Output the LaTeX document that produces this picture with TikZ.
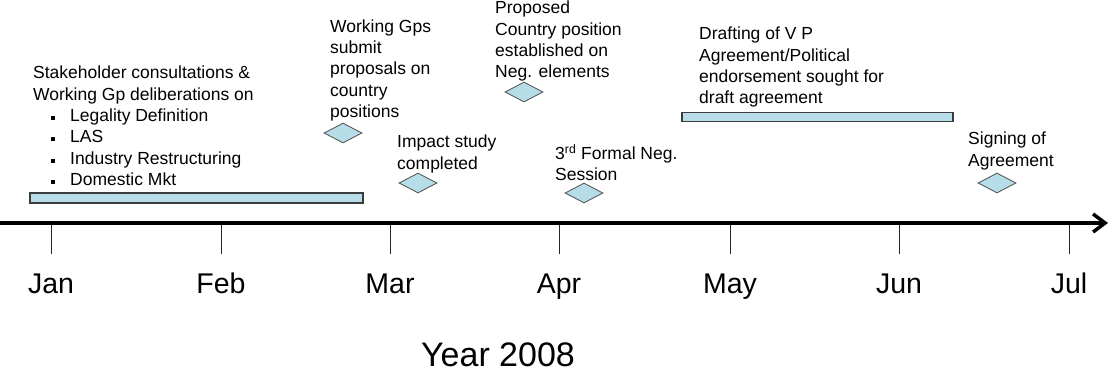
\documentclass[tikz,border=0pt]{standalone}
\usepackage{fontspec}
\setmainfont{Liberation Sans}
\usetikzlibrary{shapes.geometric,arrows.meta}
\definecolor{aqua}{RGB}{183,222,232}
\definecolor{edgegray}{RGB}{60,60,60}
\definecolor{diamgray}{RGB}{90,90,90}
\newcommand{\sqbul}{\hspace*{18pt}\rule[1.5pt]{4pt}{4pt}\hspace{15pt}}
\begin{document}
\begin{tikzpicture}[x=1pt,y=-1pt,
  lbl/.style={anchor=north west, inner sep=0pt, align=left,
    font=\fontsize{17.5}{21.3}\selectfont,
    execute at begin node={\rule{0pt}{14pt}}},
  month/.style={anchor=base, inner sep=0pt, font=\fontsize{28.5}{30}\selectfont},
  barbox/.style={draw=edgegray, line width=1.3pt, fill=aqua, rectangle, inner sep=0pt},
  diam/.style={draw=diamgray, line width=0.9pt, fill=aqua, diamond, inner sep=0pt,
    minimum width=38pt, minimum height=20pt},
  axisline/.style={line width=3.5pt, -{Straight Barb[length=12pt,width=18pt]}},
  tickline/.style={line width=0.8pt, draw=black!85}
]
\useasboundingbox (0,0) rectangle (1110,381);

% axis
\coordinate (a0) at (0,223);
\coordinate (a1) at (1108,223);
\draw[axisline] (a0) -- (a1);

% ticks and months
\foreach \n/\x/\m in {jan/51/Jan, feb/221/Feb, mar/390/Mar, apr/559/Apr, may/730/May, jun/899/Jun, jul/1069/Jul}{
  \coordinate (t\n) at (\x,225);
  \coordinate (u\n) at (\x,254);
  \draw[tickline] (t\n) -- (u\n);
  \node[month] (m\n) at (\x,293) {\m};
}

\node[anchor=base, inner sep=0pt, font=\fontsize{34}{36}\selectfont] (year) at (498,366) {Year 2008};

% bars
\node[barbox, minimum width=333pt, minimum height=10pt] (bar1) at (196.5,198) {};
\node[barbox, minimum width=271pt, minimum height=9pt] (bar2) at (817.5,117) {};

% diamonds
\node[diam] (d1) at (343,133) {};
\node[diam] (d2) at (418,183) {};
\node[diam] (d3) at (524,92) {};
\node[diam] (d4) at (584,193) {};
\node[diam] (d5) at (997,183) {};

% labels
\node[lbl] (l1) at (33,66) {Stakeholder consultations \&\\Working Gp deliberations on\\
\sqbul Legality Definition\\ \sqbul LAS\\ \sqbul Industry Restructuring\\ \sqbul Domestic Mkt};
\node[lbl] (l2) at (330,19.5) {Working Gps\\submit\\proposals on\\country\\positions};
\node[lbl] (l3) at (397,135) {Impact study\\completed};
\node[lbl] (l4) at (495,1) {Proposed\\Country position\\established on\\Neg. elements};
\node[lbl] (l5) at (555,144) {3\textsuperscript{rd} Formal Neg.\\Session};
\node[lbl] (l6) at (699,27) {Drafting of V P\\Agreement/Political\\endorsement sought for\\draft agreement};
\node[lbl] (l7) at (968,132) {Signing of\\Agreement};
\end{tikzpicture}
\end{document}
